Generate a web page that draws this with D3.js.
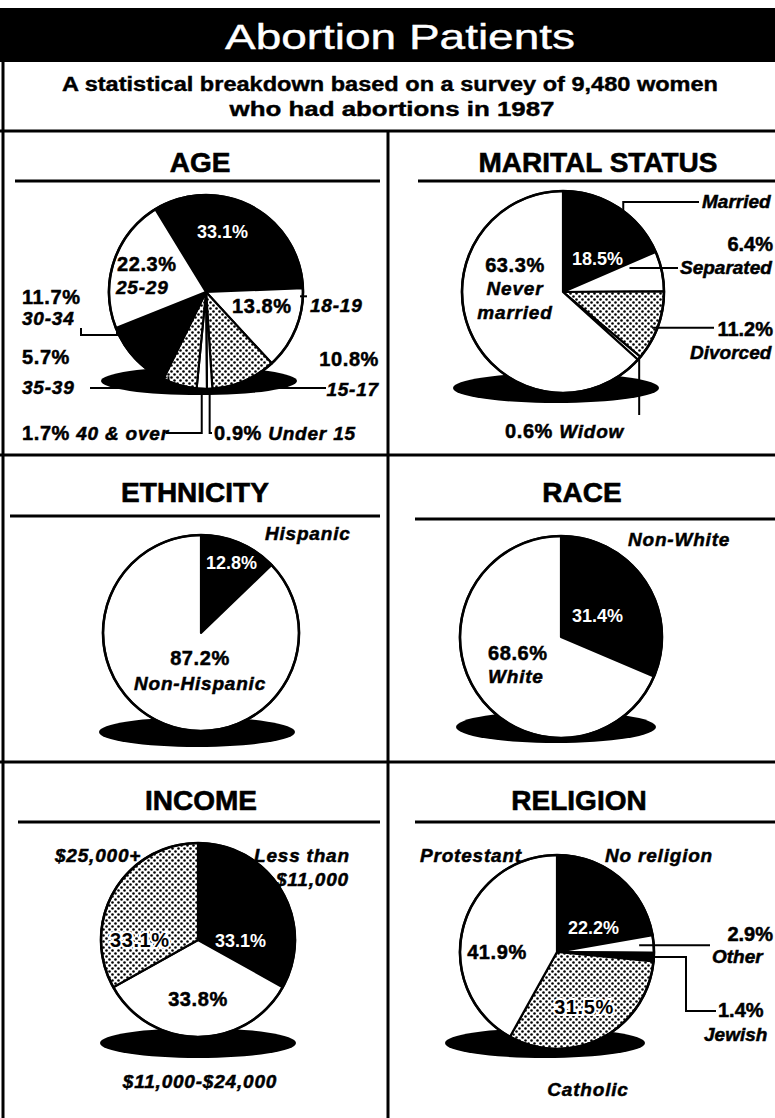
<!DOCTYPE html>
<html>
<head>
<meta charset="utf-8">
<script src="https://cdn.jsdelivr.net/npm/d3@7"></script>
<style>
body { margin: 0; background: #fff; }
text { font-family: "Liberation Sans", Arial, sans-serif; }
</style>
</head>
<body>
<script>
var W = 775, H = 1118;

// data (percent)
var ageCats = ["20-24", "18-19", "15-17", "Under 15", "40 & over", "35-39", "30-34", "25-29"];
var ageVals = [33.1, 13.8, 10.8, 0.9, 1.7, 5.7, 11.7, 22.3];
var maritalCats = ["Married", "Separated", "Divorced", "Widow", "Never\nmarried"];
var maritalVals = [18.5, 6.4, 11.2, 0.6, 63.3];
var ethCats = ["Hispanic", "Non-Hispanic"];
var ethVals = [12.8, 87.2];
var raceCats = ["Non-White", "White"];
var raceVals = [31.4, 68.6];
var incomeCats = ["Less than\n$11,000", "$11,000-$24,000", "$25,000+"];
var incomeVals = [33.1, 33.8, 33.1];
var relCats = ["No religion", "Other", "Jewish", "Catholic", "Protestant"];
var relVals = [22.2, 2.9, 1.4, 31.5, 41.9];

var pct = function(v) { return d3.format(".1f")(v) + "%"; };

var svg = d3.select("body").append("svg")
    .attr("width", W)
    .attr("height", H);

var defs = svg.append("defs");
var pat = defs.append("pattern")
    .attr("id", "dots")
    .attr("patternUnits", "userSpaceOnUse")
    .attr("width", 6)
    .attr("height", 6);
pat.append("rect").attr("width", 6).attr("height", 6).attr("fill", "#fff");
pat.append("circle").attr("cx", 1.5).attr("cy", 1.5).attr("r", 1.3).attr("fill", "#000");
pat.append("circle").attr("cx", 4.5).attr("cy", 4.5).attr("r", 1.3).attr("fill", "#000");

function fillOf(f) {
  if (f == "k") return "#000";
  if (f == "d") return "url(#dots)";
  return "#fff";
}

// header
svg.append("rect").attr("x", 0).attr("y", 8).attr("width", W).attr("height", 54).attr("fill", "#000");
svg.append("text")
    .attr("x", 400).attr("y", 49)
    .attr("text-anchor", "middle")
    .attr("fill", "#fff")
    .attr("stroke", "#fff").attr("stroke-width", 0.4)
    .attr("font-size", 35)
    .attr("textLength", 350)
    .attr("lengthAdjust", "spacingAndGlyphs")
    .text("Abortion Patients");
svg.append("text")
    .attr("x", 390).attr("y", 91)
    .attr("text-anchor", "middle")
    .attr("font-size", 20).attr("font-weight", "bold")
    .attr("stroke", "#000").attr("stroke-width", 0.4)
    .attr("textLength", 656)
    .attr("lengthAdjust", "spacingAndGlyphs")
    .text("A statistical breakdown based on a survey of 9,480 women");
svg.append("text")
    .attr("x", 392).attr("y", 116)
    .attr("text-anchor", "middle")
    .attr("font-size", 20).attr("font-weight", "bold")
    .attr("stroke", "#000").attr("stroke-width", 0.4)
    .attr("textLength", 325)
    .attr("lengthAdjust", "spacingAndGlyphs")
    .text("who had abortions in 1987");

// frame
var frame = [
  [3, 62, 3, 1118],
  [0, 131, W, 131],
  [388, 131, 388, 1118],
  [0, 455, W, 455],
  [0, 762, W, 762]
];
svg.selectAll("line.frame").data(frame).enter().append("line")
    .attr("class", "frame")
    .attr("x1", function(d) { return d[0]; })
    .attr("y1", function(d) { return d[1]; })
    .attr("x2", function(d) { return d[2]; })
    .attr("y2", function(d) { return d[3]; })
    .attr("stroke", "#000")
    .attr("stroke-width", 3);

var panels = [
  {title: "AGE", tx: 200, ty: 172, ul: [15, 380, 181],
   cats: ageCats, vals: ageVals, fills: ["k", "w", "d", "w", "w", "d", "k", "w"],
   cx: 206, cy: 292, r: 97, start: -31.5, sh: [199, 381, 98, 14],
   labels: [
     {i: 7, k: "p", x: 117, y: 271},
     {i: 7, k: "c", x: 116, y: 294},
     {i: 0, k: "p", x: 197, y: 238, white: true},
     {i: 1, k: "p", x: 232, y: 313},
     {i: 1, k: "c", x: 310, y: 312},
     {i: 2, k: "p", x: 379, y: 366, a: "end"},
     {i: 2, k: "c", x: 379, y: 396, a: "end"},
     {i: 6, k: "p", x: 22, y: 304},
     {i: 6, k: "c", x: 22, y: 325},
     {i: 5, k: "p", x: 22, y: 364},
     {i: 5, k: "c", x: 22, y: 394},
     {i: 4, k: "pc", x: 22, y: 440},
     {i: 3, k: "pc", x: 214, y: 440}
   ],
   leaders: [
     {i: 1, t: 0.1, k: 0.97, pts: [[307, null]]},
     {i: 2, t: 0.4, k: 1, pts: [[null, 388], [326, null]]},
     {i: 5, t: 0.9, k: 0.95, pts: [[null, 388], [90, null]]},
     {i: 6, t: 0.96, k: 1, pts: [[null, 335], [81, null], [null, 328]]},
     {i: 3, t: 0.5, k: 1, pts: [[null, 433], [212, null]]},
     {i: 4, t: 0.5, k: 1, pts: [[null, 433], [166, null]]}
   ]},
  {title: "MARITAL STATUS", tx: 598, ty: 172, ul: [418, 775, 181],
   cats: maritalCats, vals: maritalVals, fills: ["k", "w", "d", "w", "w"],
   cx: 563, cy: 292, r: 101, start: 0, sh: [556, 388, 103, 15],
   labels: [
     {i: 0, k: "p", x: 572, y: 265, white: true},
     {i: 4, k: "p", x: 515, y: 272, a: "middle"},
     {i: 4, k: "c", x: 515, y: 295, a: "middle"},
     {i: 0, k: "c", x: 702, y: 208, ls: 0},
     {i: 1, k: "p", x: 773, y: 251, a: "end", ls: 0},
     {i: 1, k: "c", x: 680, y: 274, ls: 0},
     {i: 2, k: "p", x: 773, y: 336, a: "end", ls: 0},
     {i: 2, k: "c", x: 690, y: 359, ls: 0},
     {i: 3, k: "pc", x: 505, y: 438, gap: "  "}
   ],
   leaders: [
     {i: 0, t: 0.55, k: 1, pts: [[null, 202], [699, null]]},
     {i: 1, t: 0.15, k: 0.7, pts: [[678, null]]},
     {i: 2, t: 0.55, k: 0.95, pts: [[714, null]]},
     {i: 3, t: 0.5, k: 1, pts: [[null, 415]]}
   ]},
  {title: "ETHNICITY", tx: 195, ty: 502, ul: [10, 380, 516],
   cats: ethCats, vals: ethVals, fills: ["k", "w"],
   cx: 201, cy: 633, r: 98, start: 0, sh: [197, 732, 98, 15],
   labels: [
     {i: 0, k: "c", x: 265, y: 540},
     {i: 0, k: "p", x: 206, y: 569, white: true},
     {i: 1, k: "p", x: 200, y: 665, a: "middle"},
     {i: 1, k: "c", x: 200, y: 690, a: "middle"}
   ],
   leaders: []},
  {title: "RACE", tx: 582, ty: 502, ul: [415, 775, 519],
   cats: raceCats, vals: raceVals, fills: ["k", "w"],
   cx: 561, cy: 637, r: 101, start: 0, sh: [556, 727, 100, 16],
   labels: [
     {i: 0, k: "c", x: 628, y: 546},
     {i: 0, k: "p", x: 572, y: 622, white: true},
     {i: 1, k: "p", x: 488, y: 660},
     {i: 1, k: "c", x: 488, y: 683}
   ],
   leaders: []},
  {title: "INCOME", tx: 201, ty: 810, ul: [18, 380, 822],
   cats: incomeCats, vals: incomeVals, fills: ["k", "w", "d"],
   cx: 198, cy: 940, r: 97, start: 0, sh: [198, 1043, 98, 15],
   labels: [
     {i: 2, k: "c", x: 55, y: 862},
     {i: 0, k: "c", x: 254, y: 862, x2: 276},
     {i: 2, k: "p", x: 110, y: 947, halo: true},
     {i: 0, k: "p", x: 215, y: 947, white: true},
     {i: 1, k: "p", x: 198, y: 1006, a: "middle"},
     {i: 1, k: "c", x: 200, y: 1088, a: "middle"}
   ],
   leaders: []},
  {title: "RELIGION", tx: 579, ty: 810, ul: [415, 775, 822],
   cats: relCats, vals: relVals, fills: ["k", "w", "k", "d", "w"],
   cx: 557, cy: 952, r: 97, start: 0, sh: [545, 1043, 100, 15],
   labels: [
     {i: 4, k: "c", x: 420, y: 862},
     {i: 0, k: "c", x: 605, y: 862},
     {i: 1, k: "p", x: 773, y: 941, a: "end", ls: 0},
     {i: 1, k: "c", x: 712, y: 963, ls: 0},
     {i: 2, k: "p", x: 718, y: 1017, ls: 0},
     {i: 2, k: "c", x: 704, y: 1041, ls: 0},
     {i: 4, k: "p", x: 497, y: 959, a: "middle"},
     {i: 0, k: "p", x: 568, y: 934, white: true},
     {i: 3, k: "p", x: 584, y: 1014, a: "middle", halo: true},
     {i: 3, k: "c", x: 588, y: 1096, a: "middle"}
   ],
   leaders: [
     {i: 1, t: 0.5, k: 0.85, pts: [[710, null]]},
     {i: 2, t: 0.5, k: 1, pts: [[686, null], [null, 1011], [716, null]]}
   ]}
];

panels.forEach(function(p) {
  var g = svg.append("g");

  g.append("text")
      .attr("x", p.tx).attr("y", p.ty)
      .attr("text-anchor", "middle")
      .attr("font-size", 28).attr("font-weight", "bold")
      .attr("stroke", "#000").attr("stroke-width", 0.6)
      .text(p.title);
  g.append("line")
      .attr("x1", p.ul[0]).attr("x2", p.ul[1])
      .attr("y1", p.ul[2]).attr("y2", p.ul[2])
      .attr("stroke", "#000").attr("stroke-width", 3);

  // shadow
  g.append("ellipse")
      .attr("cx", p.sh[0]).attr("cy", p.sh[1])
      .attr("rx", p.sh[2]).attr("ry", p.sh[3])
      .attr("fill", "#000");

  var a0 = p.start * Math.PI / 180;
  var pie = d3.pie().sort(null).startAngle(a0).endAngle(a0 + 2 * Math.PI);
  var arcs = pie(p.vals);
  var arc = d3.arc().innerRadius(0).outerRadius(p.r);

  var pg = g.append("g").attr("transform", "translate(" + p.cx + "," + p.cy + ")");
  pg.selectAll("path")
      .data(arcs)
      .enter()
      .append("path")
      .attr("d", arc)
      .attr("fill", function(d, i) { return fillOf(p.fills[i]); })
      .attr("stroke", "#000")
      .attr("stroke-width", 2.2)
      .attr("stroke-linejoin", "round");
  pg.append("circle").attr("r", p.r).attr("fill", "none")
      .attr("stroke", "#000").attr("stroke-width", 2.6);

  // leader lines start on the slice they point at
  p.leaders.forEach(function(l) {
    var d = arcs[l.i];
    var a = d.startAngle + (d.endAngle - d.startAngle) * l.t;
    var pt = [p.cx + Math.sin(a) * p.r * l.k, p.cy - Math.cos(a) * p.r * l.k];
    var path = [pt];
    l.pts.forEach(function(q) {
      var prev = path[path.length - 1];
      path.push([q[0] == null ? prev[0] : q[0], q[1] == null ? prev[1] : q[1]]);
    });
    g.append("path")
        .attr("d", d3.line()(path))
        .attr("fill", "none")
        .attr("stroke", "#000")
        .attr("stroke-width", 2);
  });

  p.labels.forEach(function(lb) {
    var col = lb.white ? "#fff" : "#000";
    var t = g.append("text")
        .attr("x", lb.x).attr("y", lb.y)
        .attr("text-anchor", lb.a || "start")
        .attr("font-weight", "bold")
        .attr("fill", col);
    if (lb.halo) {
      t.attr("stroke", "#fff").attr("stroke-width", 4).attr("paint-order", "stroke");
    } else if (!lb.white) {
      t.attr("stroke", col).attr("stroke-width", 0.5);
    }
    if (lb.k == "p") {
      t.attr("font-size", lb.white ? 18 : 20)
          .attr("letter-spacing", lb.white ? 0 : (lb.ls != null ? lb.ls : 0.6))
          .text(pct(p.vals[lb.i]));
    } else if (lb.k == "c") {
      var lines = p.cats[lb.i].split("\n");
      t.attr("font-size", 19).attr("font-style", "italic")
          .attr("letter-spacing", lb.ls != null ? lb.ls : 0.8);
      lines.forEach(function(s, j) {
        t.append("tspan")
            .attr("x", j > 0 && lb.x2 ? lb.x2 : lb.x)
            .attr("dy", j == 0 ? 0 : 24)
            .text(s);
      });
    } else {
      t.append("tspan").attr("font-size", 20).attr("letter-spacing", 0.6)
          .text(pct(p.vals[lb.i]) + (lb.gap || " "));
      t.append("tspan").attr("font-size", 19).attr("font-style", "italic")
          .attr("letter-spacing", 0.8).text(p.cats[lb.i]);
    }
  });
});
</script>
</body>
</html>
